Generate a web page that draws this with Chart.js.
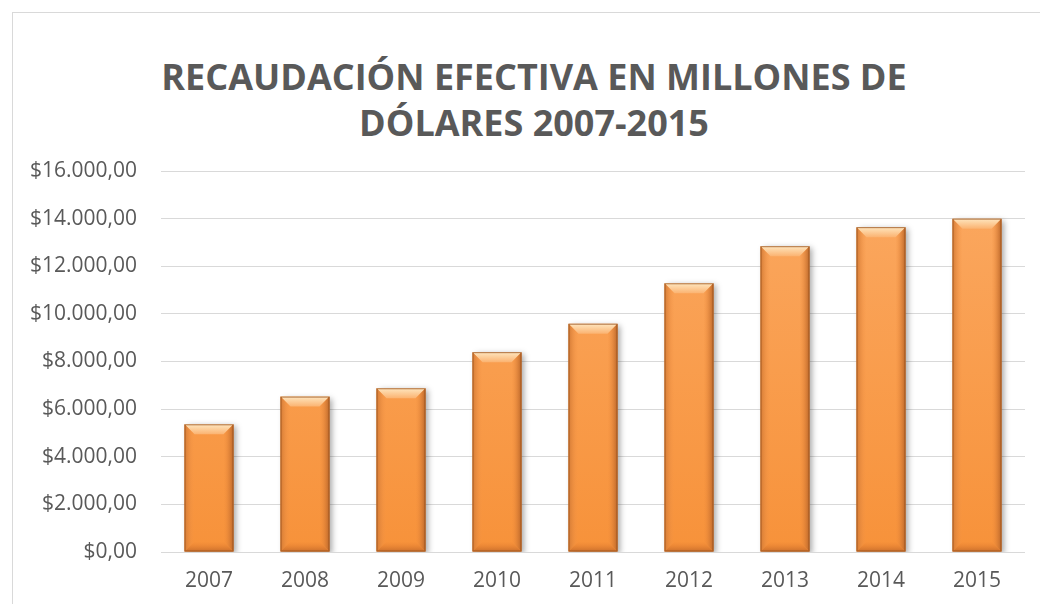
<!DOCTYPE html>
<html lang="es">
  <head>
    <meta charset="UTF-8" />
    <title>Recaudación efectiva</title>
    <style>
      html, body {
        margin: 0;
        padding: 0;
        background: #fff;
      }
      #frame {
        position: absolute;
        left: 12px;
        top: 12px;
        width: 1040px;
        height: 620px;
        border: 1px solid #d9d9d9;
      }
      #title {
        position: absolute;
        left: 34px;
        top: 54px;
        width: 1000px;
        margin: 0;
        text-align: center;
        font-family: 'Open Sans', sans-serif;
        font-weight: 700;
        font-size: 36px;
        line-height: 46px;
        color: #595959;
      }
      #chart-box {
        position: absolute;
        left: 0;
        top: 0;
        width: 1040px;
        height: 604px;
      }
    </style>
  </head>
  <body>
    <div id="frame"></div>
    <h1 id="title">RECAUDACIÓN EFECTIVA EN MILLONES DE<br />DÓLARES 2007-2015</h1>
    <div id="chart-box"><canvas id="myChart"></canvas></div>
    <script src="https://cdn.jsdelivr.net/npm/chart.js"></script>
    <script>
      const years = ['2007', '2008', '2009', '2010', '2011', '2012', '2013', '2014', '2015']
      const recaudacion = [5362, 6526, 6876, 8392, 9587, 11284, 12842, 13642, 14000]
      const yMax = 16000
      const yStep = 2000

      const gray = '#595959'

      const formatMoney = (v) => {
        const int = Math.round(v).toString().replace(/\B(?=(\d{3})+(?!\d))/g, '.')
        return '$' + int + ',00'
      }

      // orange body, lighter at the top
      const barFill = (context) => {
        const area = context.chart.chartArea
        if (!area) return '#f99b4a'
        const g = context.chart.ctx.createLinearGradient(0, area.top, 0, area.bottom)
        g.addColorStop(0, '#fba962')
        g.addColorStop(1, '#f7923a')
        return g
      }

      // bevel edges drawn on top of each bar element
      const bevelPlugin = {
        id: 'bevel',
        beforeDatasetsDraw(chart) {
          const ctx = chart.ctx
          ctx.save()
          ctx.shadowColor = 'rgba(0,0,0,0.35)'
          ctx.shadowBlur = 6
          ctx.shadowOffsetX = 3
          ctx.shadowOffsetY = 2
        },
        afterDatasetsDraw(chart) {
          const ctx = chart.ctx
          ctx.restore()
          chart.getDatasetMeta(0).data.forEach((bar) => {
            const { x, y, width, base } = bar.getProps(['x', 'y', 'width', 'base'], true)
            const l = x - width / 2
            const r = x + width / 2
            const b = 10

            let g = ctx.createLinearGradient(0, y, 0, y + b)
            g.addColorStop(0, '#fee6bf')
            g.addColorStop(1, '#fbb371')
            ctx.fillStyle = g
            ctx.beginPath()
            ctx.moveTo(l, y)
            ctx.lineTo(r, y)
            ctx.lineTo(r - b, y + b)
            ctx.lineTo(l + b, y + b)
            ctx.closePath()
            ctx.fill()

            g = ctx.createLinearGradient(l, 0, l + b, 0)
            g.addColorStop(0, '#d27a35')
            g.addColorStop(1, 'rgba(246,150,72,0)')
            ctx.fillStyle = g
            ctx.beginPath()
            ctx.moveTo(l, y)
            ctx.lineTo(l + b, y + b)
            ctx.lineTo(l + b, base - b)
            ctx.lineTo(l, base)
            ctx.closePath()
            ctx.fill()

            g = ctx.createLinearGradient(r - b, 0, r, 0)
            g.addColorStop(0, 'rgba(240,140,60,0)')
            g.addColorStop(1, '#b9662a')
            ctx.fillStyle = g
            ctx.beginPath()
            ctx.moveTo(r, y)
            ctx.lineTo(r - b, y + b)
            ctx.lineTo(r - b, base - b)
            ctx.lineTo(r, base)
            ctx.closePath()
            ctx.fill()

            g = ctx.createLinearGradient(0, base - b, 0, base)
            g.addColorStop(0, 'rgba(235,130,50,0)')
            g.addColorStop(1, '#c96f2c')
            ctx.fillStyle = g
            ctx.beginPath()
            ctx.moveTo(l, base)
            ctx.lineTo(l + b, base - b)
            ctx.lineTo(r - b, base - b)
            ctx.lineTo(r, base)
            ctx.closePath()
            ctx.fill()

            ctx.strokeStyle = 'rgba(150,80,30,0.75)'
            ctx.lineWidth = 1
            ctx.strokeRect(l + 0.5, y + 0.5, width - 1, base - y - 1)
          })
        }
      }

      const ctx = document.getElementById('myChart')

      const myChart = new Chart(ctx, {
        type: 'bar',
        data: {
          labels: years,
          datasets: [
            {
              data: recaudacion,
              backgroundColor: barFill,
              borderWidth: 0,
              barPercentage: 0.51,
              categoryPercentage: 1
            }
          ]
        },
        plugins: [bevelPlugin],
        options: {
          responsive: true,
          maintainAspectRatio: false,
          animation: false,
          layout: {
            padding: { left: 0, right: 15, top: 171, bottom: 0 }
          },
          plugins: {
            legend: { display: false },
            tooltip: { enabled: false },
            title: { display: false }
          },
          scales: {
            x: {
              grid: { display: false },
              border: { display: false },
              ticks: {
                color: gray,
                padding: 8,
                font: { family: "'Open Sans', sans-serif", size: 21 }
              },
              afterFit: (scale) => {
                scale.height = 52
              }
            },
            y: {
              min: 0,
              max: yMax,
              grid: { color: '#d9d9d9', lineWidth: 1, drawTicks: false },
              border: { display: false },
              ticks: {
                stepSize: yStep,
                color: gray,
                padding: 24,
                font: { family: "'Open Sans', sans-serif", size: 21 },
                callback: (v) => formatMoney(v)
              },
              afterFit: (scale) => {
                scale.width = 161
              }
            }
          }
        }
      })
    </script>
  </body>
</html>
